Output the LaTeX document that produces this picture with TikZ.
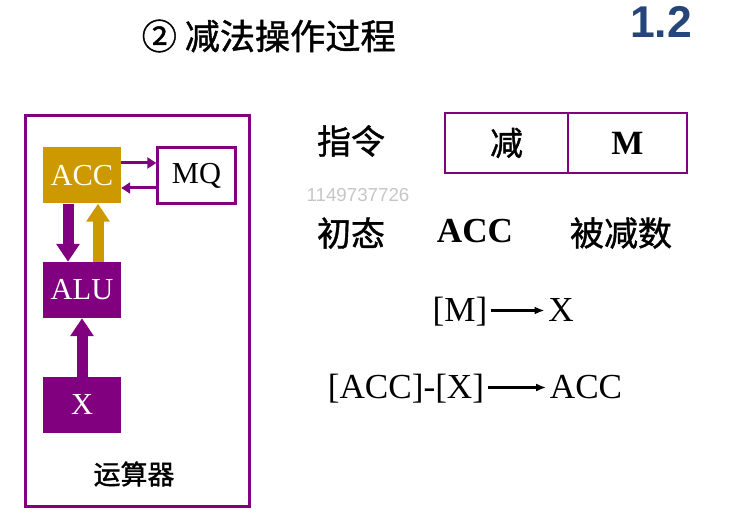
\documentclass[tikz,border=0pt]{standalone}
\usepackage{fontspec}
\usepackage{xcolor}
\setmainfont{Liberation Serif}
\newfontfamily\cjk[FakeBold=1.2]{Noto Sans CJK SC}
\newfontfamily\numfont{Liberation Sans}
\usetikzlibrary{arrows.meta}
\definecolor{reg-purple}{RGB}{128,0,128}
\definecolor{reg-gold}{RGB}{204,153,0}
\definecolor{slide-blue}{RGB}{38,70,122}
\newcommand{\fsz}[1]{\fontsize{#1}{1.2\dimexpr#1pt\relax}\selectfont}

\begin{document}
\begin{tikzpicture}[x=0.03cm, y=-0.03cm,
    reg/.style={rectangle, minimum width=2.34cm, minimum height=1.68cm,
                inner sep=0pt, font=\fsz{26}},
    field/.style={rectangle, draw=reg-purple, line width=0.075cm,
                  minimum height=1.8cm, inner sep=0pt},
    txt/.style={inner sep=3pt, text height=24pt, text depth=6pt, font=\fsz{30}},
    hanzi/.style={inner sep=3pt, font=\cjk\fsz{29}},
    fat/.style={-{Triangle[length=0.54cm, width=0.68cm]}, line width=0.33cm},
    link/.style={-{Triangle[length=0.27cm, width=0.33cm]}, line width=0.09cm, reg-purple},
    arr/.style={-{Latex[length=0.3cm, width=0.24cm]}, line width=0.065cm},
]
\useasboundingbox (0,0) rectangle (733,514);

\node[hanzi, anchor=west, font=\cjk\fsz{30}] (title) at (138,36) {② 减法操作过程};
\node[font=\numfont\bfseries\fsz{38}, text=slide-blue] (num) at (661,22) {1.2};

\node[draw=reg-purple, line width=0.09cm, minimum width=6.72cm,
      minimum height=11.73cm] (unit) at (137.5,311) {};
\node[hanzi, font=\cjk\fsz{23}] (unitname) at (134,474) {运算器};

\node[reg, fill=reg-gold, text=white!92!yellow] (acc) at (82,175.5) {ACC};
\node[reg, draw=reg-purple, line width=0.07cm, fill=white] (mq) at (196.5,175.5) {MQ};
\node[reg, fill=reg-purple, text=white] (alu) at (82,290) {ALU};
\node[reg, fill=reg-purple, text=white] (xreg) at (82,405) {X};

\draw[link] ([yshift=0.375cm]acc.east) -- ([yshift=0.375cm]mq.west);
\draw[link] ([yshift=-0.375cm]mq.west) -- ([yshift=-0.375cm]acc.east);
\draw[fat, reg-purple] ([xshift=-0.42cm]acc.south) -- ([xshift=-0.42cm]alu.north);
\draw[fat, reg-gold] ([xshift=0.48cm]alu.north) -- ([xshift=0.48cm]acc.south);
\draw[fat, reg-purple] (xreg.north) -- (alu.south);

\node[hanzi] (instr) at (351,141) {指令};
\node[field, minimum width=3.69cm] (opcode) at (506.5,143) {\cjk\fsz{28}减};
\node[field, minimum width=3.57cm] (addr) at (627.5,143) {\bfseries\fsz{29}M};

\node[font=\numfont\fsz{16}, text=gray!45] (mark) at (358,195) {1149737726};

\node[hanzi] (init) at (351,233) {初态};
\node[txt, font=\bfseries\fsz{30}] (accinit) at (475,232) {ACC};
\node[hanzi] (minuend) at (621,233) {被减数};

\node[txt] (mload) at (460,310.5) {[M]};
\node[txt] (xdst) at (561,310.5) {X};
\node[txt] (diff) at (406,387.5) {[ACC]-[X]};
\node[txt] (accres) at (586,387.5) {ACC};

\draw[arr] (mload) -- (xdst);
\draw[arr] (diff) -- (accres);
\end{tikzpicture}
\end{document}
